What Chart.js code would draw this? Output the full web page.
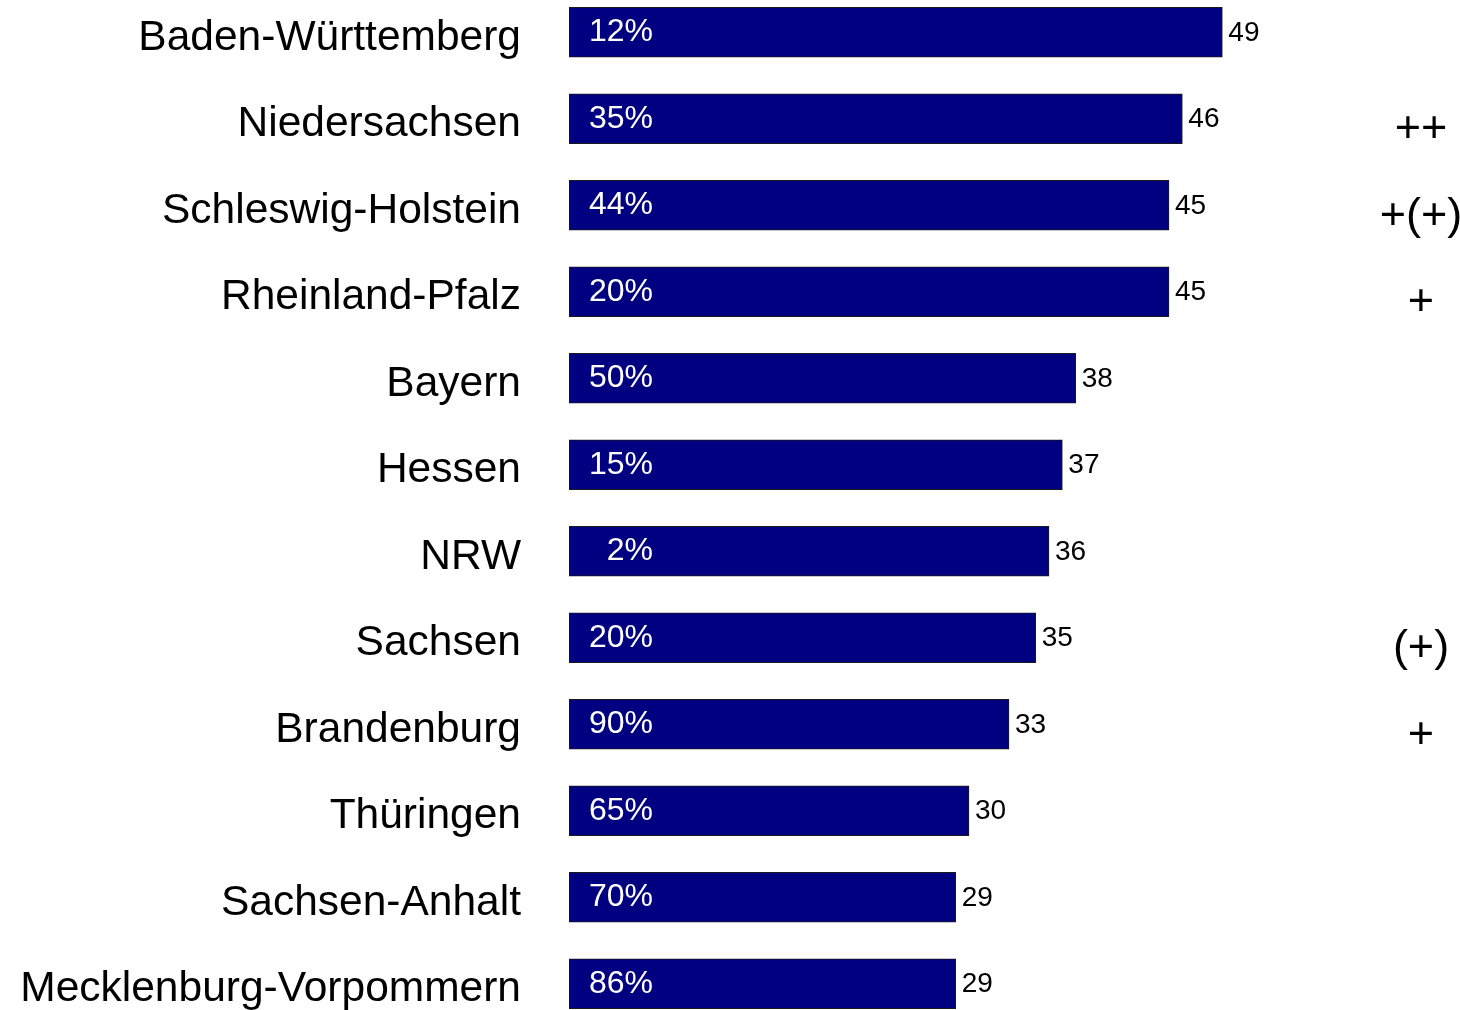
<!DOCTYPE html>
<html>
<head>
<meta charset="utf-8">
<title>Länder</title>
<script src="https://cdn.jsdelivr.net/npm/chart.js@4.4.0/dist/chart.umd.min.js"></script>
<style>
  html, body { margin: 0; padding: 0; background: #fff; overflow: hidden; }
  #wrap { position: absolute; left: 0; top: -11px; width: 1460px; height: 1038px; }
</style>
</head>
<body>
<div id="wrap"><canvas id="chart"></canvas></div>
<script>
const laender = ['Baden-Württemberg', 'Niedersachsen', 'Schleswig-Holstein', 'Rheinland-Pfalz',
    'Bayern', 'Hessen', 'NRW', 'Sachsen', 'Brandenburg', 'Thüringen', 'Sachsen-Anhalt',
    'Mecklenburg-Vorpommern'];
const werte = [49, 46, 45, 45, 38, 37, 36, 35, 33, 30, 29, 29];
const anteile = [12, 35, 44, 20, 50, 15, 2, 20, 90, 65, 70, 86];
const trend = ['', '++', '+(+)', '+', '', '', '', '(+)', '+', '', '', ''];

const FONT = '"Liberation Sans", Arial, sans-serif';

// Prozent im Balken, Wert dahinter, Trendzeichen rechts
const beschriftung = {
    id: 'beschriftung',
    afterDatasetsDraw(chart) {
        const ctx = chart.ctx;
        const bars = chart.getDatasetMeta(0).data;
        ctx.save();
        ctx.textBaseline = 'middle';
        bars.forEach(function (bar, i) {
            ctx.fillStyle = '#fff';
            ctx.font = '32px ' + FONT;
            ctx.textAlign = 'right';
            ctx.fillText(anteile[i] + '%', bar.base + 84, bar.y);

            ctx.fillStyle = '#000';
            ctx.font = '28px ' + FONT;
            ctx.textAlign = 'left';
            ctx.fillText(werte[i], bar.x + 6, bar.y + 1);

            if (trend[i]) {
                ctx.font = '45px ' + FONT;
                ctx.textAlign = 'center';
                ctx.fillText(trend[i], 1421, bar.y + 11);
            }
        });
        ctx.restore();
    }
};

const ctx = document.getElementById('chart').getContext('2d');
const chart = new Chart(ctx, {
    type: 'bar',
    data: {
        labels: laender,
        datasets: [{
            data: werte,
            backgroundColor: '#000080',
            borderColor: '#1a1a1a',
            borderWidth: 1,
            borderSkipped: false,
            barThickness: 50
        }]
    },
    options: {
        indexAxis: 'y',
        responsive: true,
        maintainAspectRatio: false,
        animation: false,
        layout: { padding: { left: 0, right: 91, top: 0, bottom: 0 } },
        plugins: {
            legend: { display: false },
            tooltip: { enabled: false }
        },
        scales: {
            x: {
                display: false,
                min: 0,
                max: 60
            },
            y: {
                grid: { display: false, drawTicks: false },
                border: { display: false },
                ticks: {
                    color: '#000',
                    font: { family: FONT, size: 42.5 },
                    padding: 48,
                    labelOffset: 6
                },
                afterFit(scale) {
                    // feste Breite, kein Zusatzrand oben/unten
                    scale.width = 569;
                    scale.paddingTop = 0;
                    scale.paddingBottom = 0;
                }
            }
        }
    },
    plugins: [beschriftung]
});
</script>
</body>
</html>
